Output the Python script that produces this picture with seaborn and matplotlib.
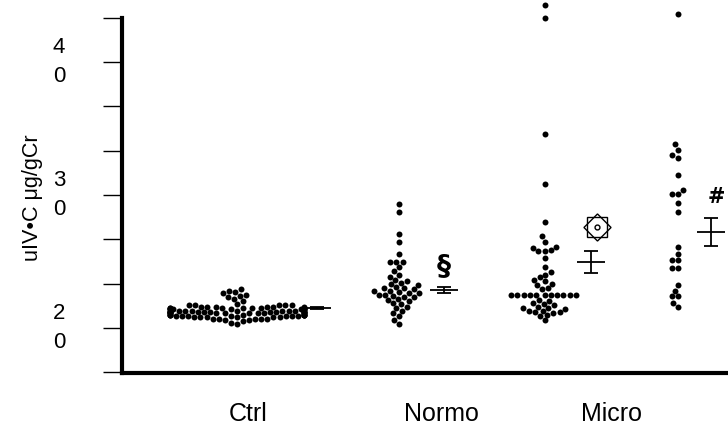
import numpy as np
import matplotlib
matplotlib.use('Agg')
import matplotlib.pyplot as plt
import matplotlib.transforms as mtransforms
import seaborn as sns

# Group positions on the x axis (cluster of points, then mean +/- SEM bar to its right)
group_names = ['Ctrl', 'Normo', 'Micro', 'Macro']
cluster_x = [0.683, 1.646, 2.510, 3.303]
mean_x = [1.159, 1.913, 2.787, 3.500]
label_x = [0.749, 1.900, 2.910]
label_text = ['Ctrl', 'Normo', 'Micro']

# Individual values (uIV-C, ug/gCr)
ctrl = [22.9, 22.8, 22.7, 22.6, 22.5, 22.4, 22.3, 22.2, 22.0, 21.8,
        21.7, 21.7, 21.7, 21.7, 21.7,
        21.6, 21.6, 21.6, 21.6, 21.6, 21.6,
        21.5, 21.5, 21.5, 21.5, 21.5, 21.5, 21.5,
        21.4, 21.4, 21.4, 21.4, 21.4, 21.4, 21.4, 21.4,
        21.3, 21.3, 21.3, 21.3, 21.3, 21.3, 21.3, 21.3, 21.3,
        21.2, 21.2, 21.2, 21.2, 21.2, 21.2, 21.2, 21.2, 21.2, 21.2,
        21.1, 21.1, 21.1, 21.1, 21.1, 21.1, 21.1, 21.1, 21.1,
        21.0, 21.0, 21.0, 21.0, 21.0, 21.0, 21.0, 21.0,
        20.9, 20.9, 20.9, 20.9, 20.9, 20.9, 20.9,
        20.8, 20.8, 20.8, 20.8, 20.8, 20.8,
        20.7, 20.7, 20.7, 20.7, 20.7,
        20.6, 20.6, 20.5, 20.4, 20.3]
normo = [29.3, 28.7, 27.1, 26.5, 25.6, 25.0, 25.0, 25.0, 24.6, 24.3, 24.0,
         23.8, 23.6, 23.5, 23.4, 23.3, 23.2, 23.1, 23.0, 23.0, 22.9, 22.8,
         22.8, 22.7, 22.6, 22.6, 22.5, 22.5, 22.4, 22.3, 22.3, 22.2, 22.1,
         22.0, 21.9, 21.8, 21.6, 21.5, 21.3, 21.1, 20.9, 20.6, 20.3]
micro = [44.3, 43.3, 34.6, 30.8, 28.0, 26.9, 26.5, 26.1, 26.0, 25.9, 25.8, 25.8,
         25.3, 24.6, 24.2, 24.0, 23.8, 23.6, 23.5, 23.3, 23.2, 23.0, 22.9,
         22.5, 22.5, 22.5, 22.5, 22.5, 22.5, 22.5, 22.5, 22.5, 22.5, 22.5,
         22.1, 22.0, 21.9, 21.8, 21.7, 21.6, 21.5, 21.5, 21.4, 21.3, 21.3, 21.2,
         21.2, 21.1, 21.0, 20.9, 20.6]
macro = [43.6, 33.8, 33.4, 33.0, 32.8, 31.5, 30.4, 30.1, 30.1, 29.4, 28.7, 26.1,
         25.6, 25.1, 25.1, 24.5, 24.5, 23.2, 22.8, 22.4, 22.4, 21.9, 21.6]

# Mean and SEM
means = [21.5, 22.86, 24.96, 27.2]
sems = [0.08, 0.22, 0.83, 1.05]

# Axis ticks
ytick_pos = [16.67, 20.0, 23.33, 26.67, 30.0, 33.33, 36.67, 40.0, 43.33]
ytick_lab = ['', '2\n0', '', '', '3\n0', '', '', '4\n0', '']

sns.set_style('white')
plt.rcParams['font.family'] = ['Liberation Sans', 'DejaVu Sans']
plt.rcParams['text.color'] = 'black'
plt.rcParams['axes.labelcolor'] = 'black'
plt.rcParams['xtick.color'] = 'black'
plt.rcParams['ytick.color'] = 'black'

fig = plt.figure(figsize=(7.28, 4.25), dpi=100)
ax = fig.add_axes([0.1676, 0.1224, 0.8324, 0.8776])

# One swarm per group so each gets its own width
for xpos, vals in zip(cluster_x, [ctrl, normo, micro, macro]):
    sns.swarmplot(x=np.full(len(vals), xpos), y=vals, native_scale=True,
                  orient='v', color='black', size=4.3, linewidth=0, ax=ax)

# Mean +/- SEM bars
ax.errorbar(mean_x, means, yerr=sems, fmt='_', color='black', markersize=20,
            mew=1.3, capsize=5, capthick=1.3, elinewidth=1.3)

# Significance marks above the bars
top = [m + s for m, s in zip(means, sems)]
ax.annotate('§', xy=(mean_x[1], top[1]), xytext=(0, 15), textcoords='offset points',
            ha='center', va='center', fontsize=20, fontweight='bold', color='black',
            family='DejaVu Sans')
ax.annotate('#', xy=(mean_x[3], top[3]), xytext=(4, 15), textcoords='offset points',
            ha='center', va='center', fontsize=15, fontweight='bold', color='black',
            family='DejaVu Sans')
star_tr = mtransforms.offset_copy(ax.transData, fig=fig, x=6, y=24, units='dots')
ax.plot(mean_x[2], top[2], marker=(4, 0, 45), ms=19.5, mfc='none', mec='black',
        mew=1, transform=star_tr)
ax.plot(mean_x[2], top[2], marker=(4, 0, 0), ms=19.5, mfc='none', mec='black',
        mew=1, transform=star_tr)
ax.plot(mean_x[2], top[2], marker='o', ms=3.5, mfc='none', mec='black',
        mew=1, transform=star_tr)

# Axes styling
ax.set_xlim(0, 3.6)
ax.set_ylim(16.62, 44.66)
ax.set_yticks(ytick_pos)
ax.set_yticklabels(ytick_lab, fontsize=16)
ax.tick_params(axis='y', direction='out', length=14, width=1, pad=27, left=True)
ax.set_xticks(label_x)
ax.set_xticklabels(label_text, fontsize=18)
ax.tick_params(axis='x', length=0, pad=21)

# two-line tick labels sit a bit above their tick in the original
lift = mtransforms.ScaledTranslation(0, 5 / 72, fig.dpi_scale_trans)
for tick in ax.yaxis.get_major_ticks():
    tick.label1.set_linespacing(1.5)
    tick.label1.set_transform(tick.label1.get_transform() + lift)

for side in ['top', 'right']:
    ax.spines[side].set_visible(False)
ax.spines['left'].set_linewidth(3)
ax.spines['bottom'].set_linewidth(3)
ax.spines['left'].set_bounds(16.62, 43.33)
ax.spines['left'].set_color('black')
ax.spines['bottom'].set_color('black')

ax.set_ylabel('uIV•C μg/gCr', fontsize=15.5)
ax.yaxis.set_label_coords(-0.13, 0.47)
ax.set_xlabel('')

plt.savefig('out.png', dpi=100)
plt.close()
